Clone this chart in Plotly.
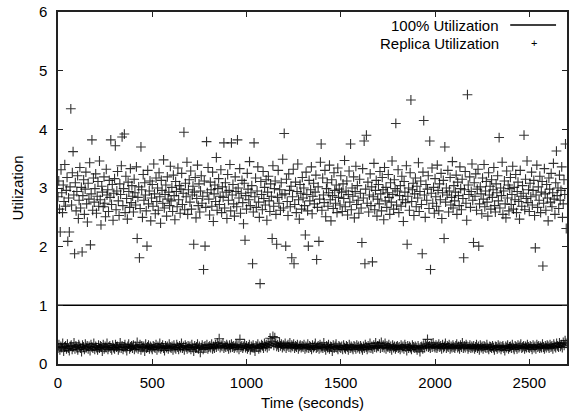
import plotly.graph_objects as go

# ---------------- data ----------------
full_util_time = [0, 2700]
full_util_value = [1.0, 1.0]

replica_hi_step = 4  # seconds between samples of the upper (replica) series
replica_hi_values = [
    2.85, 3.12, 2.64, 2.25, 3.31, 2.92, 2.58, 3.05, 2.77, 3.40, 2.69, 2.96, 3.18, 2.09, 2.83, 2.25, 3.02, 4.35, 2.71, 3.26, 3.62, 2.88, 1.88, 3.09, 2.61,
    2.94, 3.21, 2.48, 2.79, 3.35, 2.66, 3.01, 1.91, 2.87, 3.14, 2.55, 2.98, 3.27, 2.73, 2.42, 3.08, 2.81, 3.43, 2.03, 2.90, 3.82, 2.62, 3.17, 2.76, 2.99,
    3.24, 2.57, 2.86, 3.11, 2.69, 3.46, 2.80, 2.37, 3.03, 2.93, 2.68, 3.19, 2.74, 2.51, 3.32, 2.88, 2.97, 2.60, 3.13, 2.84, 3.82, 2.72, 3.06, 2.45, 2.91,
    3.16, 3.72, 2.63, 2.95, 3.28, 2.78, 2.53, 3.07, 2.89, 3.38, 3.87, 2.70, 2.99, 3.92, 2.58, 3.20, 2.82, 2.47, 3.10, 2.94, 2.67, 3.33, 2.75, 3.04, 2.86,
    2.59, 3.15, 2.92, 2.71, 3.36, 2.14, 2.84, 3.02, 1.81, 2.65, 3.70, 2.97, 2.50, 3.23, 2.79, 3.09, 2.88, 2.61, 2.01, 3.30, 2.73, 2.95, 3.12, 2.44, 2.83,
    3.06, 2.69, 3.41, 2.90, 2.56, 3.17, 2.77, 3.00, 2.62, 3.26, 2.85, 2.40, 3.13, 2.96, 2.74, 3.48, 2.66, 2.89, 3.05, 2.52, 3.19, 2.81, 2.93, 2.70, 3.37,
    2.78, 3.01, 2.60, 3.22, 2.87, 2.46, 3.11, 2.94, 2.68, 3.34, 2.80, 3.04, 2.57, 2.98, 3.25, 2.72, 2.91, 3.95, 2.63, 3.08, 2.85, 3.44, 2.55, 2.97, 3.14,
    2.76, 3.29, 2.64, 2.88, 3.03, 2.04, 2.93, 3.18, 2.49, 2.82, 3.39, 2.70, 3.07, 2.59, 2.95, 3.21, 2.74, 2.86, 1.61, 3.12, 2.01, 2.67, 3.79, 2.92, 3.35,
    2.81, 2.54, 3.10, 2.97, 2.69, 3.27, 2.43, 2.90, 3.05, 2.77, 3.52, 2.62, 2.99, 3.16, 2.72, 2.86, 3.31, 2.58, 3.02, 2.84, 3.77, 2.66, 3.09, 2.93, 2.48,
    3.23, 2.79, 2.96, 3.40, 2.61, 3.77, 2.88, 3.06, 2.73, 2.52, 3.19, 2.94, 2.68, 3.82, 3.00, 2.83, 3.33, 2.57, 2.91, 3.13, 2.75, 2.39, 3.08, 2.11, 2.87,
    2.64, 3.25, 2.98, 2.80, 3.45, 2.70, 2.92, 3.04, 1.71, 2.59, 3.77, 2.85, 3.17, 2.67, 2.95, 3.36, 2.76, 2.50, 1.37, 3.11, 2.89, 2.63, 3.28, 2.82, 3.01,
    2.71, 3.14, 2.45, 2.93, 3.20, 2.78, 2.60, 3.07, 2.86, 2.14, 3.38, 2.69, 2.99, 3.12, 2.55, 2.04, 2.84, 3.30, 2.74, 2.97, 2.62, 3.09, 2.88, 3.49, 2.66,
    3.93, 2.90, 2.01, 3.15, 2.77, 2.53, 3.24, 2.96, 2.68, 3.03, 1.81, 2.85, 3.32, 1.71, 2.72, 3.10, 2.58, 2.94, 3.41, 2.80, 2.47, 3.06, 2.91, 2.64, 3.18,
    2.83, 3.00, 2.70, 2.20, 3.27, 2.89, 2.61, 2.01, 3.13, 2.78, 2.97, 3.36, 2.56, 2.86, 3.08, 2.73, 2.93, 3.22, 1.78, 2.67, 3.02, 2.09, 2.81, 3.44, 3.75,
    2.62, 3.17, 2.88, 2.75, 3.30, 2.51, 2.99, 3.09, 2.69, 2.92, 3.39, 2.80, 2.44, 3.14, 2.87, 2.65, 3.26, 2.96, 2.74, 3.05, 2.58, 3.34, 2.84, 2.98, 2.71,
    3.21, 2.93, 2.60, 3.07, 2.82, 3.47, 2.68, 2.95, 3.12, 2.54, 2.89, 3.29, 2.76, 3.75, 2.63, 3.00, 2.86, 3.19, 2.49, 2.94, 3.37, 2.72, 3.04, 2.79, 2.57,
    3.15, 2.91, 2.66, 2.07, 3.33, 2.83, 3.80, 1.71, 2.98, 3.90, 2.74, 3.10, 2.59, 2.88, 3.24, 2.70, 3.02, 1.74, 2.85, 3.42, 2.63, 2.96, 3.13, 2.52, 2.81,
    3.06, 2.73, 3.28, 2.90, 2.61, 3.18, 2.97, 2.46, 3.35, 2.78, 3.01, 2.67, 2.92, 3.23, 2.84, 2.55, 3.09, 2.76, 3.46, 2.89, 2.64, 3.14, 2.99, 4.10, 2.71,
    2.95, 3.31, 2.58, 2.87, 3.04, 2.69, 3.20, 2.80, 2.43, 3.11, 2.93, 2.75, 3.38, 2.04, 2.86, 3.00, 2.62, 3.26, 4.50, 2.77, 2.97, 3.08, 2.53, 2.90, 3.17,
    2.68, 3.03, 2.83, 3.43, 2.60, 2.94, 3.12, 2.72, 1.88, 3.27, 4.15, 2.88, 2.50, 3.06, 2.79, 2.98, 3.21, 2.65, 3.80, 1.61, 2.91, 3.34, 2.74, 3.01, 2.57,
    3.16, 2.85, 2.69, 3.39, 2.96, 2.61, 3.07, 2.80, 3.25, 2.48, 2.92, 3.13, 2.14, 3.70, 2.76, 3.00, 2.88, 3.30, 2.59, 2.95, 3.18, 2.71, 2.84, 3.45, 2.66,
    3.04, 2.78, 2.93, 3.22, 2.55, 3.10, 2.87, 2.70, 3.36, 2.99, 2.63, 3.15, 2.82, 1.81, 2.97, 3.28, 2.74, 2.45, 4.59, 3.05, 2.89, 3.19, 2.67, 2.94, 3.41,
    2.79, 2.07, 3.09, 2.86, 3.24, 2.62, 2.98, 3.32, 2.01, 2.73, 3.02, 2.90, 2.56, 3.17, 2.81, 3.40, 2.68, 2.95, 3.11, 2.76, 2.52, 3.26, 2.88, 3.03, 2.64,
    3.14, 2.84, 2.97, 3.35, 2.70, 2.59, 3.07, 2.92, 3.21, 2.78, 3.86, 2.66, 3.00, 2.87, 3.44, 2.55, 2.95, 3.12, 2.73, 2.49, 3.29, 2.83, 3.05, 2.61, 2.99,
    3.18, 2.72, 2.89, 3.37, 2.64, 3.01, 2.80, 3.23, 2.58, 2.94, 3.10, 2.77, 2.47, 3.30, 2.86, 2.69, 3.04, 2.91, 3.90, 2.63, 3.15, 2.82, 3.46, 2.75, 2.97,
    2.60, 3.08, 2.85, 3.27, 2.71, 2.96, 3.13, 2.53, 1.98, 2.88, 3.39, 2.67, 3.02, 2.79, 3.20, 2.58, 2.93, 3.11, 1.67, 2.74, 3.33, 2.90, 2.62, 3.06, 2.83,
    2.44, 3.17, 2.98, 2.76, 3.25, 2.68, 2.92, 3.42, 2.81, 2.55, 3.09, 3.63, 2.87, 3.00, 2.65, 3.22, 2.79, 2.96, 3.36, 2.50, 2.73, 3.14, 2.89, 3.75, 2.31,
]

replica_lo_step = 5  # seconds between samples of the lower (replica) series
replica_lo_values = [
    0.27, 0.33, 0.24, 0.30, 0.28, 0.35, 0.22, 0.29, 0.31, 0.26, 0.34, 0.27, 0.23, 0.30, 0.32, 0.25, 0.29, 0.36, 0.26, 0.31,
    0.28, 0.24, 0.33, 0.30, 0.27, 0.21, 0.32, 0.29, 0.25, 0.34, 0.28, 0.31, 0.26, 0.30, 0.23, 0.33, 0.29, 0.27, 0.35, 0.25,
    0.30, 0.28, 0.24, 0.32, 0.27, 0.31, 0.29, 0.22, 0.33, 0.26, 0.30, 0.28, 0.35, 0.25, 0.29, 0.31, 0.27, 0.24, 0.32, 0.28,
    0.26, 0.33, 0.29, 0.30, 0.24, 0.28, 0.36, 0.27, 0.31, 0.25, 0.29, 0.33, 0.28, 0.23, 0.30, 0.34, 0.26, 0.29, 0.31, 0.27,
    0.32, 0.25, 0.30, 0.28, 0.37, 0.26, 0.29, 0.33, 0.24, 0.31, 0.28, 0.30, 0.22, 0.34, 0.27, 0.29, 0.32, 0.26, 0.30, 0.28,
    0.25, 0.31, 0.29, 0.27, 0.33, 0.24, 0.30, 0.28, 0.35, 0.26, 0.29, 0.32, 0.27, 0.23, 0.31, 0.28, 0.30, 0.26, 0.34, 0.29,
    0.27, 0.30, 0.24, 0.32, 0.28, 0.26, 0.33, 0.29, 0.25, 0.31, 0.28, 0.35, 0.27, 0.30, 0.24, 0.32, 0.29, 0.26, 0.31, 0.28,
    0.30, 0.25, 0.33, 0.28, 0.22, 0.31, 0.27, 0.29, 0.34, 0.26, 0.30, 0.20, 0.28, 0.32, 0.25, 0.29, 0.31, 0.27, 0.33, 0.26,
    0.29, 0.31, 0.28, 0.34, 0.26, 0.30, 0.27, 0.33, 0.29, 0.36, 0.31, 0.43, 0.28, 0.32, 0.30, 0.35, 0.27, 0.31, 0.29, 0.33,
    0.30, 0.26, 0.32, 0.28, 0.34, 0.29, 0.31, 0.27, 0.30, 0.33, 0.28, 0.32, 0.25, 0.42, 0.29, 0.31, 0.27, 0.30, 0.34, 0.28,
    0.31, 0.26, 0.29, 0.33, 0.24, 0.30, 0.28, 0.32, 0.27, 0.22, 0.31, 0.29, 0.34, 0.26, 0.30, 0.28, 0.33, 0.31, 0.27, 0.35,
    0.30, 0.33, 0.28, 0.36, 0.31, 0.44, 0.34, 0.38, 0.47, 0.32, 0.45, 0.35, 0.30, 0.33, 0.29, 0.37, 0.31, 0.34, 0.28, 0.32,
    0.30, 0.35, 0.27, 0.31, 0.33, 0.29, 0.36, 0.28, 0.32, 0.30, 0.34, 0.27, 0.31, 0.29, 0.33, 0.26, 0.30, 0.32, 0.28, 0.31,
    0.29, 0.33, 0.26, 0.30, 0.28, 0.34, 0.27, 0.31, 0.29, 0.25, 0.32, 0.28, 0.30, 0.35, 0.27, 0.29, 0.31, 0.26, 0.33, 0.28,
    0.30, 0.27, 0.36, 0.29, 0.24, 0.31, 0.28, 0.33, 0.26, 0.30, 0.29, 0.22, 0.32, 0.27, 0.30, 0.34, 0.28, 0.25, 0.31, 0.29,
    0.27, 0.30, 0.25, 0.32, 0.28, 0.26, 0.31, 0.29, 0.24, 0.33, 0.27, 0.30, 0.28, 0.25, 0.31, 0.29, 0.26, 0.32, 0.28, 0.30,
    0.26, 0.31, 0.28, 0.24, 0.30, 0.27, 0.33, 0.29, 0.25, 0.31, 0.28, 0.35, 0.27, 0.30, 0.26, 0.32, 0.29, 0.36, 0.28, 0.31,
    0.30, 0.34, 0.27, 0.37, 0.29, 0.32, 0.28, 0.35, 0.26, 0.31, 0.29, 0.33, 0.27, 0.30, 0.24, 0.32, 0.28, 0.30, 0.26, 0.29,
    0.31, 0.27, 0.29, 0.25, 0.32, 0.28, 0.30, 0.26, 0.33, 0.29, 0.23, 0.31, 0.27, 0.30, 0.28, 0.25, 0.32, 0.29, 0.27, 0.30,
    0.28, 0.24, 0.31, 0.27, 0.21, 0.29, 0.30, 0.26, 0.32, 0.28, 0.34, 0.30, 0.42, 0.29, 0.31, 0.27, 0.33, 0.29, 0.36, 0.30,
    0.28, 0.32, 0.27, 0.30, 0.34, 0.29, 0.31, 0.26, 0.33, 0.28, 0.30, 0.35, 0.27, 0.31, 0.29, 0.33, 0.26, 0.30, 0.28, 0.32,
    0.29, 0.27, 0.31, 0.34, 0.28, 0.30, 0.26, 0.32, 0.29, 0.36, 0.27, 0.31, 0.28, 0.33, 0.30, 0.26, 0.29, 0.32, 0.27, 0.30,
    0.28, 0.31, 0.26, 0.29, 0.33, 0.27, 0.30, 0.24, 0.32, 0.28, 0.30, 0.26, 0.31, 0.29, 0.27, 0.33, 0.28, 0.25, 0.30, 0.29,
    0.27, 0.31, 0.28, 0.24, 0.30, 0.29, 0.26, 0.32, 0.28, 0.30, 0.25, 0.29, 0.31, 0.27, 0.23, 0.30, 0.28, 0.32, 0.26, 0.29,
    0.30, 0.27, 0.33, 0.28, 0.25, 0.31, 0.29, 0.26, 0.32, 0.28, 0.30, 0.34, 0.27, 0.29, 0.31, 0.26, 0.30, 0.28, 0.33, 0.29,
    0.27, 0.31, 0.29, 0.25, 0.32, 0.28, 0.30, 0.26, 0.33, 0.29, 0.31, 0.27, 0.30, 0.28, 0.34, 0.29, 0.26, 0.31, 0.28, 0.32,
    0.30, 0.27, 0.33, 0.29, 0.31, 0.26, 0.34, 0.30, 0.28, 0.35, 0.31, 0.29, 0.36, 0.30, 0.33, 0.28, 0.37, 0.32, 0.40, 0.35,
]

x_tick_values = [0, 500, 1000, 1500, 2000, 2500]
y_tick_values = [0, 1, 2, 3, 4, 5, 6]

series_names = ["100% Utilization", "Replica Utilization"]
x_title = "Time (seconds)"
y_title = "Utilization"

# ---------------- figure ----------------
hi_time = [i * replica_hi_step for i in range(len(replica_hi_values))]
lo_time = [i * replica_lo_step for i in range(len(replica_lo_values))]
rep_time = hi_time + lo_time
rep_vals = replica_hi_values + replica_lo_values

FONT = "Liberation Sans, Arial, Helvetica, sans-serif"
FS = 15

fig = go.Figure()
fig.add_trace(go.Scatter(
    x=full_util_time, y=full_util_value, mode="lines",
    line=dict(color="black", width=1.5), name=series_names[0],
    showlegend=False, hoverinfo="skip"))
fig.add_trace(go.Scatter(
    x=rep_time, y=rep_vals, mode="markers", name=series_names[1],
    marker=dict(symbol="cross-thin", size=7, color="black", opacity=0.8,
                line=dict(width=1.1, color="black")),
    showlegend=False))

W, H = 569, 418
L, R, T, B = 58, 0, 12, 54
pw, ph = W - L - R, H - T - B

def px_x(p):
    return (p - L) / pw

def px_y(p):
    return 1 - (p - T) / ph

# gnuplot-style key: text right-aligned, sample to the right
fig.add_annotation(x=px_x(503), y=px_y(25), xref="paper", yref="paper",
                   text=series_names[0], showarrow=False, xanchor="right",
                   yanchor="middle", font=dict(family=FONT, size=FS, color="black"))
fig.add_annotation(x=px_x(503), y=px_y(43), xref="paper", yref="paper",
                   text=series_names[1], showarrow=False, xanchor="right",
                   yanchor="middle", font=dict(family=FONT, size=FS, color="black"))
fig.add_shape(type="line", xref="paper", yref="paper",
              x0=px_x(512), x1=px_x(558), y0=px_y(25), y1=px_y(25),
              line=dict(color="black", width=1.5))
fig.add_annotation(x=px_x(536), y=px_y(43), xref="paper", yref="paper",
                   text="+", showarrow=False, xanchor="center", yanchor="middle",
                   font=dict(family=FONT, size=11, color="black"))

axis_common = dict(
    showline=True, linecolor="#222", linewidth=1.5, mirror="ticks",
    ticks="inside", ticklen=5, tickwidth=1, tickcolor="#222",
    showgrid=False, zeroline=False,
    tickfont=dict(family=FONT, size=FS, color="black"),
)

fig.update_layout(
    width=W, height=H,
    margin=dict(l=L, r=R, t=T, b=B),
    paper_bgcolor="white", plot_bgcolor="white",
    xaxis=dict(range=[0, 2700], tickvals=x_tick_values, ticklabelstandoff=4,
               title=dict(text=x_title, font=dict(family=FONT, size=FS, color="black"), standoff=8),
               **axis_common),
    yaxis=dict(range=[0, 6], tickvals=y_tick_values, ticklabelstandoff=6,
               title=dict(text=y_title, font=dict(family=FONT, size=FS, color="black"), standoff=12),
               **axis_common),
    showlegend=False,
)

fig.write_html("out.html")
